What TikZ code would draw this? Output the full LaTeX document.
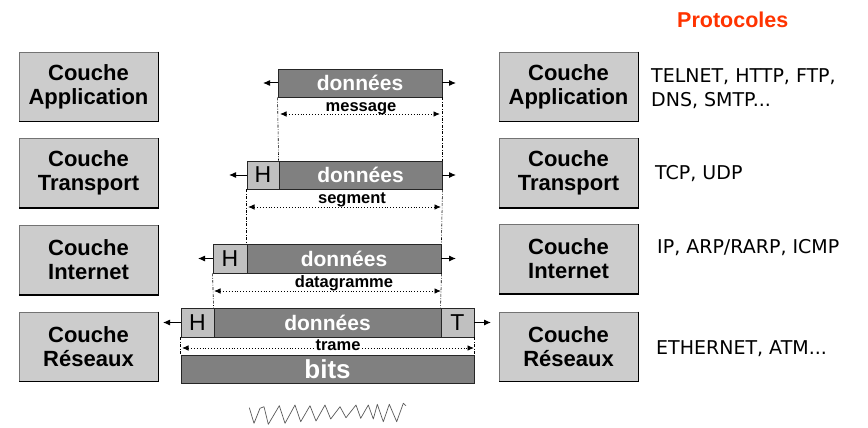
\documentclass[tikz,border=0pt]{standalone}
\usepackage{fontspec}
\setmainfont{Liberation Sans}
\newfontfamily\protofont{DejaVu Sans}
\usetikzlibrary{arrows.meta}
\definecolor{boxgray}{HTML}{CCCCCC}
\definecolor{datagray}{HTML}{808080}
\definecolor{hdrgray}{HTML}{C0C0C0}
\definecolor{protored}{HTML}{FF3300}
\begin{document}
\begin{tikzpicture}[x=1pt,y=-1pt,
 layerbox/.style={draw=black!55, line width=0.8pt, fill=boxgray, minimum width=139pt, minimum height=69pt, inner sep=0pt, align=center, font=\fontsize{22}{24}\selectfont\bfseries},
 databox/.style={draw=black!85, line width=0.9pt, fill=datagray, minimum height=28pt, inner sep=0pt, text=white, font=\fontsize{21}{21}\selectfont\bfseries},
 hdrbox/.style={draw=black!85, line width=0.9pt, fill=hdrgray, minimum height=28pt, inner sep=0pt, font=\fontsize{23}{23}\selectfont},
 lbl/.style={anchor=base, inner sep=0.6pt, font=\fontsize{16.5}{16.5}\selectfont\bfseries},
 proto/.style={anchor=west, align=left, inner sep=0pt, font=\protofont\fontsize{19}{24}\selectfont},
 outarrow/.style={-{Latex[length=7pt,width=6pt]}, line width=1pt},
 spanarrow/.style={{Latex[length=6.5pt,width=5.5pt]}-{Latex[length=6.5pt,width=5.5pt]}, dotted, line width=0.9pt},
 guideline/.style={line width=0.6pt, dash pattern=on 3pt off 1.5pt on 0.8pt off 1.5pt},
 edgeshade/.style={line width=1.3pt, black},
]
\useasboundingbox (0,0) rectangle (868,428);

% layer boxes
\node[layerbox] (lA) at (88.5,86.5) {Couche\\Application};
\node[layerbox] (lT) at (88.5,173) {Couche\\Transport};
\node[layerbox] (lI) at (88.5,260) {Couche\\Internet};
\node[layerbox] (lR) at (88.5,346.5) {Couche\\R\'eseaux};
\node[layerbox] (rA) at (568.5,86.5) {Couche\\Application};
\node[layerbox] (rT) at (568.5,173) {Couche\\Transport};
\node[layerbox] (rI) at (568.5,259) {Couche\\Internet};
\node[layerbox] (rR) at (568.5,346.5) {Couche\\R\'eseaux};
\foreach \n in {lA,lT,lI,lR,rA,rT,rI,rR}
  \draw[edgeshade] (\n.north east) -- (\n.south east) -- (\n.south west);

% protocols
\node[anchor=base west, inner sep=0pt, text=protored, font=\fontsize{21.5}{21.5}\selectfont\bfseries] (ptitle) at (677,28) {Protocoles};
\node[proto] (pA) at (651,89) {TELNET, HTTP, FTP,\\DNS, SMTP...};
\node[proto] (pT) at (655,174) {TCP, UDP};
\node[proto] (pI) at (657,248) {IP, ARP/RARP, ICMP};
\node[proto] (pR) at (656,349) {ETHERNET, ATM...};

% application frame
\node[databox, minimum width=164pt] (aD) at (360,83) {donn\'ees};
% transport frame
\node[hdrbox, minimum width=32pt] (tH) at (263,175) {H};
\node[databox, minimum width=163pt] (tD) at (360.5,175) {donn\'ees};
% internet frame
\node[hdrbox, minimum width=34pt, minimum height=29pt] (iH) at (230,258.5) {H};
\node[databox, minimum width=194pt, minimum height=29pt] (iD) at (344,258.5) {donn\'ees};
% network frame
\node[hdrbox, minimum width=33pt, minimum height=29pt] (nH) at (197.5,322.5) {H};
\node[databox, minimum width=227pt, minimum height=29pt] (nD) at (327.5,322.5) {donn\'ees};
\node[hdrbox, minimum width=33pt, minimum height=29pt] (nT) at (457.5,322.5) {T};
% bits
\node[databox, minimum width=293pt, font=\fontsize{26}{26}\selectfont\bfseries] (bits) at (327.5,369) {bits};

% outgoing arrows
\coordinate (aL) at (263,83);  \coordinate (aR) at (456,83);
\coordinate (tL) at (229,175); \coordinate (tR) at (456,175);
\coordinate (iL) at (198,258.5); \coordinate (iR) at (456,258.5);
\coordinate (nL) at (163,322.5); \coordinate (nR) at (491,322.5);
\draw[outarrow] (aD.west) -- (aL);
\draw[outarrow] (aD.east) -- (aR);
\draw[outarrow] (tH.west) -- (tL);
\draw[outarrow] (tD.east) -- (tR);
\draw[outarrow] (iH.west) -- (iL);
\draw[outarrow] (iD.east) -- (iR);
\draw[outarrow] (nH.west) -- (nL);
\draw[outarrow] (nT.east) -- (nR);

% guide lines
\draw[guideline] (aD.south west) -- (tD.north west);
\draw[guideline] (aD.south east) -- (tD.north east);
\draw[guideline] (tH.south west) -- (iD.north west);
\draw[guideline] (tD.south east) -- (iD.north east);
\draw[guideline] (iH.south west) -- (nD.north west);
\draw[guideline] (iD.south east) -- (nT.north west);
\draw[guideline] (nH.south west) -- (bits.north west);
\draw[guideline] (nT.south east) -- (bits.north east);

% span arrows
\coordinate (mA) at (280,114); \coordinate (mB) at (440,114);
\coordinate (sA) at (248,207); \coordinate (sB) at (441,207);
\coordinate (dA) at (214,291); \coordinate (dB) at (441,291);
\coordinate (fA) at (182,348); \coordinate (fB) at (474,348);
\draw[spanarrow] (mA) -- (mB);
\draw[spanarrow] (sA) -- (sB);
\draw[spanarrow] (dA) -- (dB);
\draw[spanarrow] (fA) -- (fB);
\node[lbl] (lm) at (361,111) {message};
\node[lbl] (ls) at (352,203) {segment};
\node[lbl] (ld) at (344,287) {datagramme};
\node[lbl, fill=white] (lf) at (338,350) {trame};

% signal
\draw[black!65, line width=0.7pt, line join=round]
 (249.3,407.7) -- (254,423.3) -- (260,408.3) -- (264,406.7) -- (268.3,424.3)
 -- (279.3,405.7) -- (285,423.3) -- (295,405) -- (300.7,421.7) -- (310,405.7)
 -- (316,421) -- (325,405) -- (330.7,419) -- (340,406.7) -- (346,417.7)
 -- (356,405) -- (360.7,418.3) -- (368.3,405) -- (373.3,419) -- (377.3,404.3)
 -- (383.3,421.7) -- (389.3,404.3) -- (396.7,421.7) -- (403.3,403.3) -- (406,405.7);
\end{tikzpicture}
\end{document}
